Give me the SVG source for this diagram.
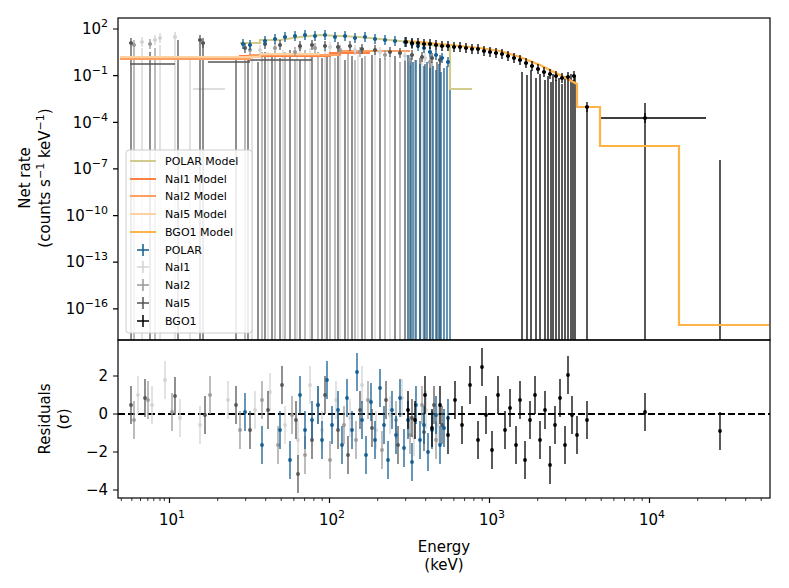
<svg xmlns="http://www.w3.org/2000/svg" xmlns:xlink="http://www.w3.org/1999/xlink" width="789" height="588" viewBox="0 0 789 588">
<style>
text{font-family:"DejaVu Sans",sans-serif;fill:#000}
.tk{font-size:15px}
.lg{font-size:11px}
.ax{stroke:#000;stroke-width:1.2;fill:none}
.b{color:#135e92}.l1{color:#d3d3d3}.l2{color:#999}.l5{color:#555}.k{color:#000}
</style>
<defs>
<g id="eb"><path d="M0,-19V19" stroke="currentColor" stroke-width="1.3"/><circle r="1.9" fill="currentColor"/></g>
<g id="pt"><path d="M0,-5V5M-2,0H2" stroke="currentColor" stroke-width="1.3"/><circle r="1.9" fill="currentColor"/></g>
<clipPath id="c1"><rect x="118" y="18" width="652" height="322"/></clipPath>
<clipPath id="c2"><rect x="118" y="340" width="652" height="158"/></clipPath>
</defs>
<rect width="789" height="588" fill="#fff"/>
<g id="top" clip-path="url(#c1)">
<path stroke="#d3d3d3" stroke-width="1.3" fill="none" d="M142,48V340M160,45V340M175,42V340M190,60V340M252,55V340M268,52V340M283,50V340M297,55V340M310,48V340M325,50V340M340,52V340M358,55V340M375,50V340M390,56V340M408,55V340M422,58V340M193,89H225"/>
<path stroke="#999" stroke-width="1.3" fill="none" d="M134,50V340M155,48V340M245,58V340M262,52V340M275,55V340M285,52V340M295,60V340M305,50V340M318,52V340M330,55V340M335,58V340M348,54V340M355,60V340M365,56V340M385,58V340M400,62V340M415,60V340M432,62V340"/>
<path stroke="#555" stroke-width="1.3" fill="none" d="M131,48V340M150,52V340M178,40V340M200,45V340M203,42V340M236,58V340M248,56V340M258,62V340M265,52V340M272,55V340M280,58V340M290,50V340M300,60V340M312,54V340M322,58V340M327,56V340M338,52V340M345,60V340M352,56V340M362,58V340M372,55V340M380,58V340M395,56V340M405,60V340M410,62V340M420,58V340M425,64V340M430,60V340M437,62V340M440,58V340M130,64H175M208,62H250M248,60H312"/>
<path stroke="#135e92" stroke-width="1.3" fill="none" d="M408,55V340M411,58V340M413,62V340M416,60V340M420,64V340M424,66V340M427,62V340M430,68V340M433,66V340M436,70V340M439,64V340M441,72V340M444,68V340M447,66V340M450,70V340"/>
<path stroke="#000" stroke-width="1.3" fill="none" d="M522,72V340M527,75V340M531,70V340M536,78V340M540,74V340M545,80V340M548,76V340M551,82V340M553,74V340M556,80V340M559,78V340M562,84V340M565,76V340M568,82V340M571,74V340M573,80V340M575,76V340M587,107V340M577,107H600M645,103V340M600,118H706M720,160V340"/>
<path stroke="#ffb347" stroke-width="2.2" fill="none" d="M405,41L420,42L440,44L460,46L480,48L500,51L520,57L540,65L560,75L577,84V107H600V146H679V325H769"/>
<path stroke="#ff8040" stroke-width="2.2" fill="none" d="M120,58H240V56H330V53H370"/>
<path stroke="#ffa060" stroke-width="2.2" fill="none" d="M120,59H250V55H340V51H410"/>
<path stroke="#ffd0a0" stroke-width="2.2" fill="none" d="M120,57H260V54H320"/>
<path stroke="#d2cc8c" stroke-width="2.2" fill="none" d="M240,43H260V40H280L300,37L320,35L340,36L360,37L380,39L400,41L420,44L440,46H450V89H472"/>
<g class="l1"><use href="#pt" x="142" y="42"/><use href="#pt" x="155" y="40"/><use href="#pt" x="160" y="38"/><use href="#pt" x="175" y="37"/><use href="#pt" x="260" y="50"/><use href="#pt" x="300" y="48"/><use href="#pt" x="330" y="47"/><use href="#pt" x="355" y="50"/><use href="#pt" x="380" y="52"/><use href="#pt" x="405" y="56"/><use href="#pt" x="425" y="58"/></g>
<g class="l2"><use href="#pt" x="134" y="45"/><use href="#pt" x="150" y="44"/><use href="#pt" x="250" y="50"/><use href="#pt" x="275" y="48"/><use href="#pt" x="295" y="52"/><use href="#pt" x="315" y="48"/><use href="#pt" x="340" y="50"/><use href="#pt" x="360" y="52"/><use href="#pt" x="385" y="55"/><use href="#pt" x="410" y="60"/><use href="#pt" x="430" y="62"/></g>
<g class="l5"><use href="#pt" x="131" y="43"/><use href="#pt" x="200" y="40"/><use href="#pt" x="203" y="43"/><use href="#pt" x="245" y="48"/><use href="#pt" x="265" y="44"/><use href="#pt" x="280" y="45"/><use href="#pt" x="300" y="46"/><use href="#pt" x="312" y="45"/><use href="#pt" x="325" y="46"/><use href="#pt" x="338" y="47"/><use href="#pt" x="350" y="46"/><use href="#pt" x="362" y="49"/><use href="#pt" x="375" y="50"/><use href="#pt" x="390" y="52"/><use href="#pt" x="400" y="53"/><use href="#pt" x="412" y="55"/><use href="#pt" x="422" y="57"/><use href="#pt" x="432" y="58"/><use href="#pt" x="440" y="60"/></g>
<g class="b"><use href="#pt" x="243" y="44"/><use href="#pt" x="250" y="45"/><use href="#pt" x="265" y="41"/><use href="#pt" x="275" y="39"/><use href="#pt" x="285" y="37"/><use href="#pt" x="295" y="36"/><use href="#pt" x="305" y="35"/><use href="#pt" x="315" y="36"/><use href="#pt" x="325" y="35"/><use href="#pt" x="335" y="37"/><use href="#pt" x="345" y="36"/><use href="#pt" x="355" y="38"/><use href="#pt" x="365" y="37"/><use href="#pt" x="375" y="39"/><use href="#pt" x="385" y="40"/><use href="#pt" x="395" y="41"/><use href="#pt" x="405" y="42"/><use href="#pt" x="412" y="44"/><use href="#pt" x="418" y="46"/><use href="#pt" x="424" y="48"/><use href="#pt" x="430" y="52"/><use href="#pt" x="436" y="55"/><use href="#pt" x="442" y="58"/><use href="#pt" x="448" y="62"/></g>
<g class="k"><use href="#pt" x="406" y="42"/><use href="#pt" x="412" y="43"/><use href="#pt" x="418" y="43"/><use href="#pt" x="424" y="44"/><use href="#pt" x="430" y="44"/><use href="#pt" x="436" y="45"/><use href="#pt" x="442" y="46"/><use href="#pt" x="448" y="46"/><use href="#pt" x="454" y="47"/><use href="#pt" x="460" y="47"/><use href="#pt" x="466" y="48"/><use href="#pt" x="472" y="49"/><use href="#pt" x="478" y="49"/><use href="#pt" x="484" y="51"/><use href="#pt" x="490" y="52"/><use href="#pt" x="496" y="53"/><use href="#pt" x="502" y="54"/><use href="#pt" x="508" y="56"/><use href="#pt" x="514" y="58"/><use href="#pt" x="520" y="60"/><use href="#pt" x="526" y="63"/><use href="#pt" x="532" y="66"/><use href="#pt" x="538" y="69"/><use href="#pt" x="544" y="72"/><use href="#pt" x="550" y="74"/><use href="#pt" x="556" y="76"/><use href="#pt" x="562" y="78"/><use href="#pt" x="568" y="77"/><use href="#pt" x="574" y="76"/><use href="#pt" x="587" y="107"/><use href="#pt" x="645" y="118"/></g>
</g>
<g id="legend">
<rect x="126" y="150" width="126" height="183" rx="3" fill="#fff" fill-opacity="0.85" stroke="#ccc"/>
<path d="M130,161H156" stroke="#d2cc8c" stroke-width="2"/><text class="lg" x="165" y="165">POLAR Model</text>
<path d="M130,179H156" stroke="#ff8040" stroke-width="2"/><text class="lg" x="165" y="183">NaI1 Model</text>
<path d="M130,196H156" stroke="#ffa060" stroke-width="2"/><text class="lg" x="165" y="200">NaI2 Model</text>
<path d="M130,214H156" stroke="#ffd0a0" stroke-width="2"/><text class="lg" x="165" y="218">NaI5 Model</text>
<path d="M130,232H156" stroke="#ffb347" stroke-width="2"/><text class="lg" x="165" y="236">BGO1 Model</text>
<g class="b"><path d="M143,244V256M137,250H149" stroke="currentColor" stroke-width="1.5"/></g><text class="lg" x="165" y="254">POLAR</text>
<g class="l1"><path d="M143,261V273M137,267H149" stroke="currentColor" stroke-width="1.5"/></g><text class="lg" x="165" y="271">NaI1</text>
<g class="l2"><path d="M143,279V291M137,285H149" stroke="currentColor" stroke-width="1.5"/></g><text class="lg" x="165" y="289">NaI2</text>
<g class="l5"><path d="M143,297V309M137,303H149" stroke="currentColor" stroke-width="1.5"/></g><text class="lg" x="165" y="307">NaI5</text>
<g class="k"><path d="M143,315V327M137,321H149" stroke="currentColor" stroke-width="1.5"/></g><text class="lg" x="165" y="325">BGO1</text>
</g>
<g id="bottom" clip-path="url(#c2)">
<path d="M118,414H770" stroke="#000" stroke-width="2" stroke-dasharray="7,3"/>
<g class="l1"><use href="#eb" x="138" y="395"/><use href="#eb" x="152" y="405"/><use href="#eb" x="165" y="380"/><use href="#eb" x="180" y="418"/><use href="#eb" x="200" y="425"/><use href="#eb" x="228" y="400"/><use href="#eb" x="255" y="410"/><use href="#eb" x="270" y="392"/><use href="#eb" x="285" y="425"/><use href="#eb" x="298" y="440"/><use href="#eb" x="310" y="385"/><use href="#eb" x="322" y="430"/><use href="#eb" x="336" y="400"/><use href="#eb" x="350" y="418"/><use href="#eb" x="362" y="385"/><use href="#eb" x="376" y="430"/><use href="#eb" x="390" y="415"/><use href="#eb" x="402" y="398"/><use href="#eb" x="414" y="437"/><use href="#eb" x="426" y="410"/><use href="#eb" x="438" y="425"/></g>
<g class="l2"><use href="#eb" x="134" y="420"/><use href="#eb" x="148" y="400"/><use href="#eb" x="172" y="412"/><use href="#eb" x="210" y="395"/><use href="#eb" x="240" y="430"/><use href="#eb" x="262" y="400"/><use href="#eb" x="278" y="445"/><use href="#eb" x="292" y="415"/><use href="#eb" x="305" y="455"/><use href="#eb" x="318" y="405"/><use href="#eb" x="330" y="460"/><use href="#eb" x="344" y="425"/><use href="#eb" x="356" y="440"/><use href="#eb" x="368" y="400"/><use href="#eb" x="382" y="450"/><use href="#eb" x="396" y="420"/><use href="#eb" x="410" y="435"/><use href="#eb" x="422" y="405"/><use href="#eb" x="436" y="440"/></g>
<g class="l5"><use href="#eb" x="131" y="405"/><use href="#eb" x="145" y="398"/><use href="#eb" x="175" y="396"/><use href="#eb" x="205" y="415"/><use href="#eb" x="236" y="405"/><use href="#eb" x="250" y="430"/><use href="#eb" x="268" y="410"/><use href="#eb" x="282" y="385"/><use href="#eb" x="296" y="420"/><use href="#eb" x="298" y="474"/><use href="#eb" x="312" y="440"/><use href="#eb" x="325" y="395"/><use href="#eb" x="338" y="430"/><use href="#eb" x="348" y="455"/><use href="#eb" x="360" y="410"/><use href="#eb" x="372" y="428"/><use href="#eb" x="386" y="400"/><use href="#eb" x="398" y="445"/><use href="#eb" x="412" y="418"/><use href="#eb" x="424" y="432"/><use href="#eb" x="434" y="405"/><use href="#eb" x="442" y="425"/></g>
<g class="b"><use href="#eb" x="245" y="412"/><use href="#eb" x="262" y="445"/><use href="#eb" x="280" y="430"/><use href="#eb" x="290" y="460"/><use href="#eb" x="300" y="395"/><use href="#eb" x="305" y="430"/><use href="#eb" x="312" y="420"/><use href="#eb" x="318" y="405"/><use href="#eb" x="322" y="440"/><use href="#eb" x="327" y="380"/><use href="#eb" x="332" y="425"/><use href="#eb" x="338" y="410"/><use href="#eb" x="342" y="445"/><use href="#eb" x="347" y="398"/><use href="#eb" x="352" y="430"/><use href="#eb" x="357" y="372"/><use href="#eb" x="362" y="420"/><use href="#eb" x="366" y="455"/><use href="#eb" x="371" y="402"/><use href="#eb" x="375" y="440"/><use href="#eb" x="380" y="388"/><use href="#eb" x="384" y="425"/><use href="#eb" x="388" y="460"/><use href="#eb" x="392" y="410"/><use href="#eb" x="396" y="435"/><use href="#eb" x="400" y="398"/><use href="#eb" x="404" y="448"/><use href="#eb" x="408" y="420"/><use href="#eb" x="412" y="462"/><use href="#eb" x="416" y="405"/><use href="#eb" x="420" y="440"/><use href="#eb" x="424" y="425"/><use href="#eb" x="428" y="452"/><use href="#eb" x="432" y="430"/><use href="#eb" x="436" y="415"/><use href="#eb" x="440" y="445"/><use href="#eb" x="444" y="428"/><use href="#eb" x="448" y="418"/></g>
<g class="k"><use href="#eb" x="408" y="410"/><use href="#eb" x="415" y="420"/><use href="#eb" x="425" y="395"/><use href="#eb" x="432" y="428"/><use href="#eb" x="440" y="405"/><use href="#eb" x="448" y="435"/><use href="#eb" x="455" y="400"/><use href="#eb" x="462" y="425"/><use href="#eb" x="470" y="385"/><use href="#eb" x="478" y="440"/><use href="#eb" x="482" y="367"/><use href="#eb" x="486" y="415"/><use href="#eb" x="492" y="450"/><use href="#eb" x="498" y="395"/><use href="#eb" x="505" y="430"/><use href="#eb" x="510" y="408"/><use href="#eb" x="516" y="445"/><use href="#eb" x="520" y="400"/><use href="#eb" x="525" y="460"/><use href="#eb" x="530" y="420"/><use href="#eb" x="535" y="395"/><use href="#eb" x="540" y="440"/><use href="#eb" x="545" y="410"/><use href="#eb" x="550" y="465"/><use href="#eb" x="555" y="425"/><use href="#eb" x="560" y="398"/><use href="#eb" x="565" y="445"/><use href="#eb" x="568" y="375"/><use href="#eb" x="572" y="415"/><use href="#eb" x="577" y="435"/><use href="#eb" x="587" y="420"/><use href="#eb" x="645" y="412"/><use href="#eb" x="720" y="431"/></g>
</g>
<g id="axes">
<rect class="ax" x="118" y="18" width="652" height="322"/>
<rect class="ax" x="118" y="340" width="652" height="158"/>
<path class="ax" d="M118,29h-5M118,75.6h-5M118,122.3h-5M118,168.9h-5M118,215.6h-5M118,262.2h-5M118,308.9h-5M118,376h-5M118,414h-5M118,452h-5M118,490h-5"/>
<path class="ax" d="M169.5,498v5M329.5,498v5M489.5,498v5M649.5,498v5"/>
<path stroke="#000" stroke-width="0.8" d="M121.3,498v3M131.8,498v3M140.5,498v3M147.8,498v3M153.8,498v3M160,498v3M164.3,498v3M217.7,498v3M245.7,498v3M265.7,498v3M281.2,498v3M293.9,498v3M304.6,498v3M313.9,498v3M322.2,498v3M377.7,498v3M405.7,498v3M425.7,498v3M441.2,498v3M453.9,498v3M464.6,498v3M473.9,498v3M482.2,498v3M537.7,498v3M565.7,498v3M585.7,498v3M601.2,498v3M613.9,498v3M624.6,498v3M633.9,498v3M642.2,498v3M697.7,498v3M725.7,498v3M745.7,498v3M761.2,498v3"/>
<g class="tk" text-anchor="end">
<text x="108" y="34">10<tspan dy="-7" font-size="11">2</tspan></text>
<text x="108" y="81">10<tspan dy="-7" font-size="11">−1</tspan></text>
<text x="108" y="128">10<tspan dy="-7" font-size="11">−4</tspan></text>
<text x="108" y="174">10<tspan dy="-7" font-size="11">−7</tspan></text>
<text x="108" y="221">10<tspan dy="-7" font-size="11">−10</tspan></text>
<text x="108" y="267">10<tspan dy="-7" font-size="11">−13</tspan></text>
<text x="108" y="314">10<tspan dy="-7" font-size="11">−16</tspan></text>
<text x="108" y="381">2</text><text x="108" y="419">0</text><text x="108" y="457">−2</text><text x="108" y="495">−4</text>
</g>
<g class="tk" text-anchor="middle">
<text x="172" y="525">10<tspan dy="-7" font-size="11">1</tspan></text>
<text x="332" y="525">10<tspan dy="-7" font-size="11">2</tspan></text>
<text x="492" y="525">10<tspan dy="-7" font-size="11">3</tspan></text>
<text x="652" y="525">10<tspan dy="-7" font-size="11">4</tspan></text>
<text x="444" y="552">Energy</text><text x="444" y="570">(keV)</text>
<text transform="translate(30,178) rotate(-90)">Net rate</text>
<text transform="translate(50,178) rotate(-90)">(counts s<tspan dy="-6" font-size="11">−1</tspan><tspan dy="6"> keV</tspan><tspan dy="-6" font-size="11">−1</tspan><tspan dy="6">)</tspan></text>
<text transform="translate(50,419) rotate(-90)">Residuals</text>
<text transform="translate(69,419) rotate(-90)">(σ)</text>
</g>
</g>
</svg>
